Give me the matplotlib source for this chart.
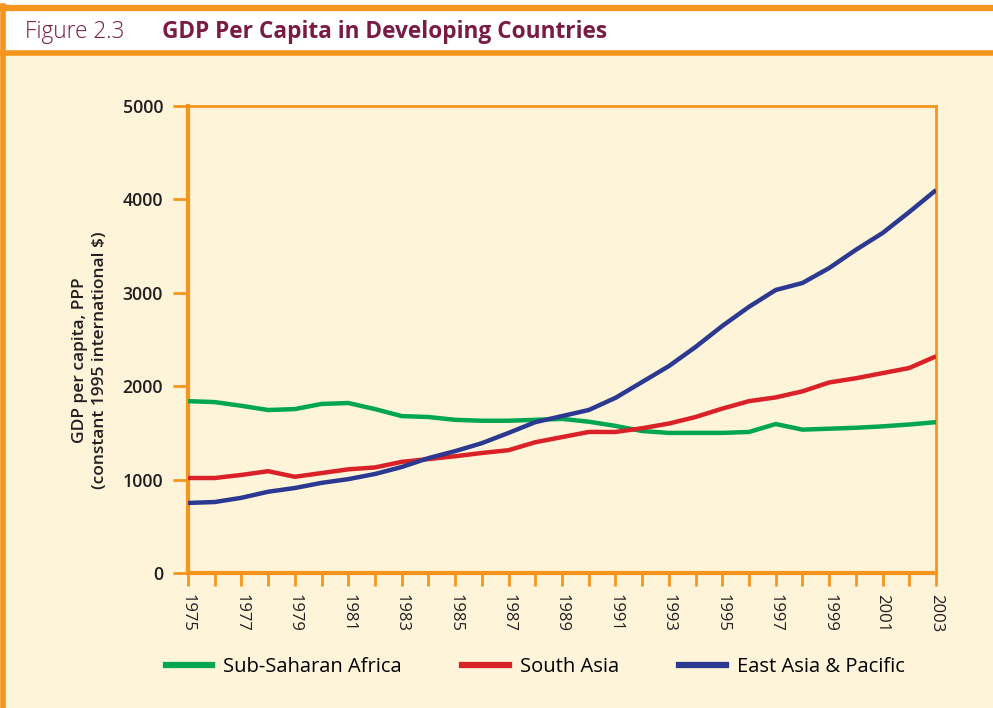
import matplotlib.pyplot as plt
from matplotlib.patches import Rectangle
from matplotlib.lines import Line2D

years = list(range(1975, 2004))

ssa = [1840, 1830, 1790, 1745, 1755, 1810, 1820, 1755, 1680, 1670,
       1640, 1630, 1630, 1640, 1650, 1620, 1575, 1520, 1500, 1500,
       1500, 1510, 1595, 1535, 1545, 1555, 1570, 1590, 1615]
south_asia = [1017, 1017, 1050, 1090, 1030, 1070, 1110, 1130, 1190, 1220,
              1250, 1285, 1315, 1400, 1455, 1510, 1510, 1550, 1600, 1670,
              1760, 1840, 1880, 1945, 2040, 2085, 2140, 2195, 2320]
east_asia = [750, 760, 805, 870, 910, 965, 1005, 1060, 1135, 1230,
             1305, 1390, 1500, 1615, 1680, 1745, 1875, 2045, 2215, 2420,
             2645, 2850, 3030, 3105, 3265, 3460, 3640, 3865, 4100]

series_names = ["Sub-Saharan Africa", "South Asia", "East Asia & Pacific"]
yticks = [0, 1000, 2000, 3000, 4000, 5000]

orange = "#F7941D"
cream = "#FEF4DA"
maroon = "#7A1B45"
dark = "#231F20"
colors = ["#00A651", "#DA2128", "#2B3990"]

fig = plt.figure(figsize=(9.93, 7.08), dpi=100)
fig.patch.set_facecolor(cream)

# header band and frame
fig.add_artist(Rectangle((0, 1 - 53 / 708), 1, 53 / 708, transform=fig.transFigure,
                         facecolor="white", edgecolor="none", zorder=0))
fig.add_artist(Line2D([0, 1], [1 - 8 / 708, 1 - 8 / 708], transform=fig.transFigure,
                      color=orange, lw=4.5))
fig.add_artist(Line2D([0, 1], [1 - 53 / 708, 1 - 53 / 708], transform=fig.transFigure,
                      color=orange, lw=4))
fig.add_artist(Line2D([3 / 993, 3 / 993], [0, 1 - 6 / 708], transform=fig.transFigure,
                      color=orange, lw=4))

fig.text(25 / 993, 1 - 32 / 708, "Figure 2.3", fontsize=16.3, color=maroon,
         family="Open Sans", fontweight="light", va="center")
fig.text(162 / 993, 1 - 32 / 708, "GDP Per Capita in Developing Countries", fontsize=16.3,
         color=maroon, family="Open Sans", fontweight="bold", va="center")

ax = fig.add_axes([188 / 993, 1 - 573 / 708, (936 - 188) / 993, (573 - 106) / 708])
ax.set_facecolor(cream)

for vals, c in zip([ssa, south_asia, east_asia], colors):
    ax.plot(years, vals, color=c, lw=3.2, solid_capstyle="butt", zorder=3)

ax.set_xlim(1975, 2003)
ax.set_ylim(0, 5000)
ax.set_yticks(yticks)
ax.set_yticklabels([str(v) for v in yticks], fontsize=12.8, fontweight="semibold",
                   color=dark, family="Open Sans")
ax.set_xticks(years)
ax.set_xticklabels([str(y) if (y - 1975) % 2 == 0 else "" for y in years],
                   rotation=-90, fontsize=12, color=dark, family="Open Sans")

for side in ["left", "bottom"]:
    ax.spines[side].set_color(orange)
    ax.spines[side].set_linewidth(3)
for side in ["top", "right"]:
    ax.spines[side].set_color(orange)
    ax.spines[side].set_linewidth(2)

ax.tick_params(axis="y", length=11, width=2, color=orange, pad=7)
ax.tick_params(axis="x", length=9, width=2, color=orange, pad=6)

ax.set_ylabel("GDP per capita, PPP\n(constant 1995 international $)", fontsize=12.5,
              fontweight="semibold", color=dark, family="Open Sans",
              linespacing=1.35)
ax.yaxis.set_label_coords(-0.107, 0.455)

handles = [Line2D([], [], color=c, lw=4.5) for c in colors]
fig.legend(handles, series_names, loc="center left", bbox_to_anchor=(166 / 993, 1 - 667 / 708),
           ncol=3, frameon=False, handlelength=2.3, handletextpad=0.55, columnspacing=3.0,
           borderpad=0, borderaxespad=0, prop={"family": "Open Sans", "size": 14.5})

fig.savefig("out.png", dpi=100, facecolor=fig.get_facecolor())
